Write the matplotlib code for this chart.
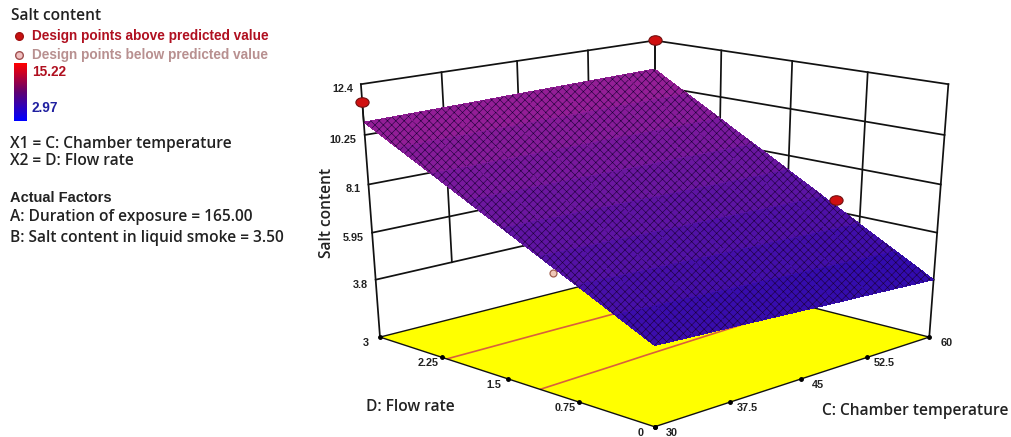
import matplotlib
matplotlib.use("Agg")
import matplotlib.pyplot as plt
import numpy as np
from matplotlib.colors import LinearSegmentedColormap, Normalize
from matplotlib.path import Path
from matplotlib.transforms import Affine2D
from mpl_toolkits.mplot3d import proj3d

c_ticks = [30, 37.5, 45, 52.5, 60]
d_ticks = [0, 0.75, 1.5, 2.25, 3]
z_ticks = [3.8, 5.95, 8.1, 10.25, 12.4]
c_labels = ["30", "37.5", "45", "52.5", "60"]
d_labels = ["0", "0.75", "1.5", "2.25", "3"]
z_labels = ["3.8", "5.95", "8.1", "10.25", "12.4"]
z_floor = 1.1

c_grid = [30, 33.75, 37.5, 41.25, 45, 48.75, 52.5, 56.25, 60]
d_grid = [0, 0.375, 0.75, 1.125, 1.5, 1.875, 2.25, 2.625, 3]
salt = [
    [4.50, 4.41, 4.33, 4.24, 4.15, 4.06, 3.98, 3.89, 3.80],
    [5.29, 5.22, 5.15, 5.07, 5.00, 4.93, 4.86, 4.78, 4.71],
    [6.08, 6.02, 5.96, 5.90, 5.85, 5.79, 5.73, 5.67, 5.61],
    [6.86, 6.82, 6.78, 6.73, 6.69, 6.65, 6.61, 6.56, 6.52],
    [7.65, 7.62, 7.60, 7.57, 7.54, 7.51, 7.49, 7.46, 7.43],
    [8.44, 8.43, 8.41, 8.40, 8.39, 8.37, 8.36, 8.34, 8.33],
    [9.23, 9.23, 9.23, 9.23, 9.24, 9.24, 9.24, 9.24, 9.24],
    [10.01, 10.03, 10.05, 10.06, 10.08, 10.09, 10.11, 10.12, 10.14],
    [10.80, 10.83, 10.86, 10.89, 10.93, 10.96, 10.99, 11.02, 11.05],
]
contour_levels = [6.92, 9.11]

points_c = [30, 60, 60]
points_d = [3, 3, 1.0]
points_z = [11.65, 12.4, 6.5]
points_base = [10.80, 11.05, 6.2]
below_c = [30]
below_d = [0.98]
below_z = [6.35]

W, H = 1012, 437
fig = plt.figure(figsize=(W / 100, H / 100), dpi=100, facecolor="white")
plt.rcParams["hatch.linewidth"] = 0.4

ax = fig.add_axes([308 / W, -10 / H, 675 / W, 452 / H], projection="3d", computed_zorder=False)
# picture is squashed vertically, so let the 3d box fill a non-square rectangle
ax.apply_aspect = lambda position=None: None
ax.set_box_aspect((1, 1, 1.0))
ax.view_init(elev=20, azim=-135)
ax.set_proj_type("persp", focal_length=0.56)
ax.set_xlim(30, 60, view_margin=0)
ax.set_ylim(0, 3, view_margin=0)
ax.set_zlim(z_floor, 12.4, view_margin=0)
ax.set_axis_off()

C, D = np.meshgrid(c_grid, d_grid)
Z = np.array(salt)

# floor
ax.plot_surface(
    np.array([[30, 60], [30, 60]]), np.array([[0, 0], [3, 3]]), np.full((2, 2), z_floor),
    color="#ffff00", shade=False, linewidth=0, zorder=1,
)
ax.contour(C, D, Z, levels=contour_levels, zdir="z", offset=z_floor, colors="#d9603c", linewidths=1.2, zorder=2)

# walls
line = dict(color="#111111", lw=1.25, zorder=3)
for z in z_ticks:
    ax.plot([30, 60], [3, 3], [z, z], **line)
    ax.plot([60, 60], [3, 0], [z, z], **line)
for c in c_ticks[1:-1]:
    ax.plot([c, c], [3, 3], [z_ticks[0], z_ticks[-1]], **line)
for d in d_ticks[1:-1]:
    ax.plot([60, 60], [d, d], [z_ticks[0], z_ticks[-1]], **line)
for c, d in [(30, 3), (60, 3), (60, 0)]:
    ax.plot([c, c], [d, d], [z_floor, 12.4], **line)

# floor outline
ax.plot([30, 60, 60, 30, 30], [0, 0, 3, 3, 0], [z_floor] * 5, color="#111111", lw=1.0, zorder=3)
ax.plot(c_ticks, [0] * 5, [z_floor] * 5, ls="none", marker="o", ms=2.5, color="black", zorder=3)
ax.plot([30] * 5, d_ticks, [z_floor] * 5, ls="none", marker="o", ms=2.5, color="black", zorder=3)

# surface
surf_cmap = LinearSegmentedColormap.from_list("surf", ["#2a0ab0", "#9c2094"])
surf = ax.plot_surface(
    C, D, Z, rstride=1, cstride=1, cmap=surf_cmap, norm=Normalize(3.8, 11.05),
    shade=False, linewidth=0, antialiased=False, zorder=5,
)
surf.set_edgecolor("#1c0038")
surf.set_linewidth(0)
surf.set_hatch("xxxx")

# design points
ellipse = Path.unit_circle().transformed(Affine2D().scale(1, 0.72))
for c, d, z, base in zip(points_c, points_d, points_z, points_base):
    ax.plot([c, c], [d, d], [base, z], color="#111111", lw=1.1, zorder=6)
ax.plot(points_c, points_d, points_z, ls="none", marker=ellipse, ms=9.5, mfc="#d01010", mec="#701010", mew=0.8, zorder=7)
ax.plot(below_c, below_d, below_z, ls="none", marker="o", ms=5, mfc="#f0c8b8", mec="#a06050", mew=0.9, zorder=7)

# tick labels
tick_font = dict(family="Liberation Sans", weight="bold", fontsize=7.8, color="#222222", annotation_clip=False)
proj = ax.get_proj()


def put_label(c, d, z, text, dx, dy, ha):
    x2, y2, _ = proj3d.proj_transform(c, d, z, proj)
    ax.annotate(text, (x2, y2), xytext=(dx, dy), textcoords="offset pixels", ha=ha, va="center", **tick_font)


for c, t in zip(c_ticks, c_labels):
    put_label(c, 0, z_floor, t, 17, -6, "center")
for d, t in zip(d_ticks, d_labels):
    put_label(30, d, z_floor, t, -14, -6, "center")
for z, t in zip(z_ticks, z_labels):
    put_label(30, 3, z, t, -8, -5, "right")

# left panel and axis titles, in pixel coordinates
ov = fig.add_axes([0, 0, 1, 1], facecolor="none")
ov.set_xlim(0, W)
ov.set_ylim(H, 0)
ov.axis("off")

body = dict(family="Open Sans", fontsize=11.2, color="#222222", va="center", ha="left", weight="semibold")
ov.text(11, 16, "Salt content", **body)
ov.text(10, 144, "X1 = C: Chamber temperature", **body)
ov.text(10, 161, "X2 = D: Flow rate", **body)
ov.text(10, 198, "Actual Factors", **{**body, "family": "Liberation Sans", "fontsize": 10.5})
ov.text(10, 217, "A: Duration of exposure = 165.00", **body)
ov.text(10, 238, "B: Salt content in liquid smoke = 3.50", **body)
ov.text(327, 213, "Salt content", rotation=90, **{**body, "ha": "center"})
ov.text(410, 407, "D: Flow rate", **{**body, "ha": "center"})
ov.text(915, 411, "C: Chamber temperature", **{**body, "ha": "center"})

legend_font = dict(family="Liberation Sans", weight="bold", fontsize=9.8, va="center", ha="left")
ov.plot([19], [36], ls="none", marker="o", ms=5.5, mfc="#c81010", mec="#a01010")
ov.text(32, 36, "Design points above predicted value", color="#b01020", **legend_font)
ov.plot([19], [55], ls="none", marker="o", ms=5.5, mfc="#f0c0c0", mec="#a05050")
ov.text(32, 55, "Design points below predicted value", color="#b89090", **legend_font)
ov.text(32, 72, "15.22", color="#b01020", **legend_font)
ov.text(32, 108, "2.97", color="#2020a0", **legend_font)

bar_cmap = LinearSegmentedColormap.from_list("bar", ["#0000ff", "#600070", "#ff0000"])
ov.imshow(
    np.linspace(1, 0, 64).reshape(-1, 1), cmap=bar_cmap, extent=(14, 27, 121, 63),
    aspect="auto", zorder=2,
)
ov.set_xlim(0, W)
ov.set_ylim(H, 0)

fig.savefig("out.png", dpi=100)
